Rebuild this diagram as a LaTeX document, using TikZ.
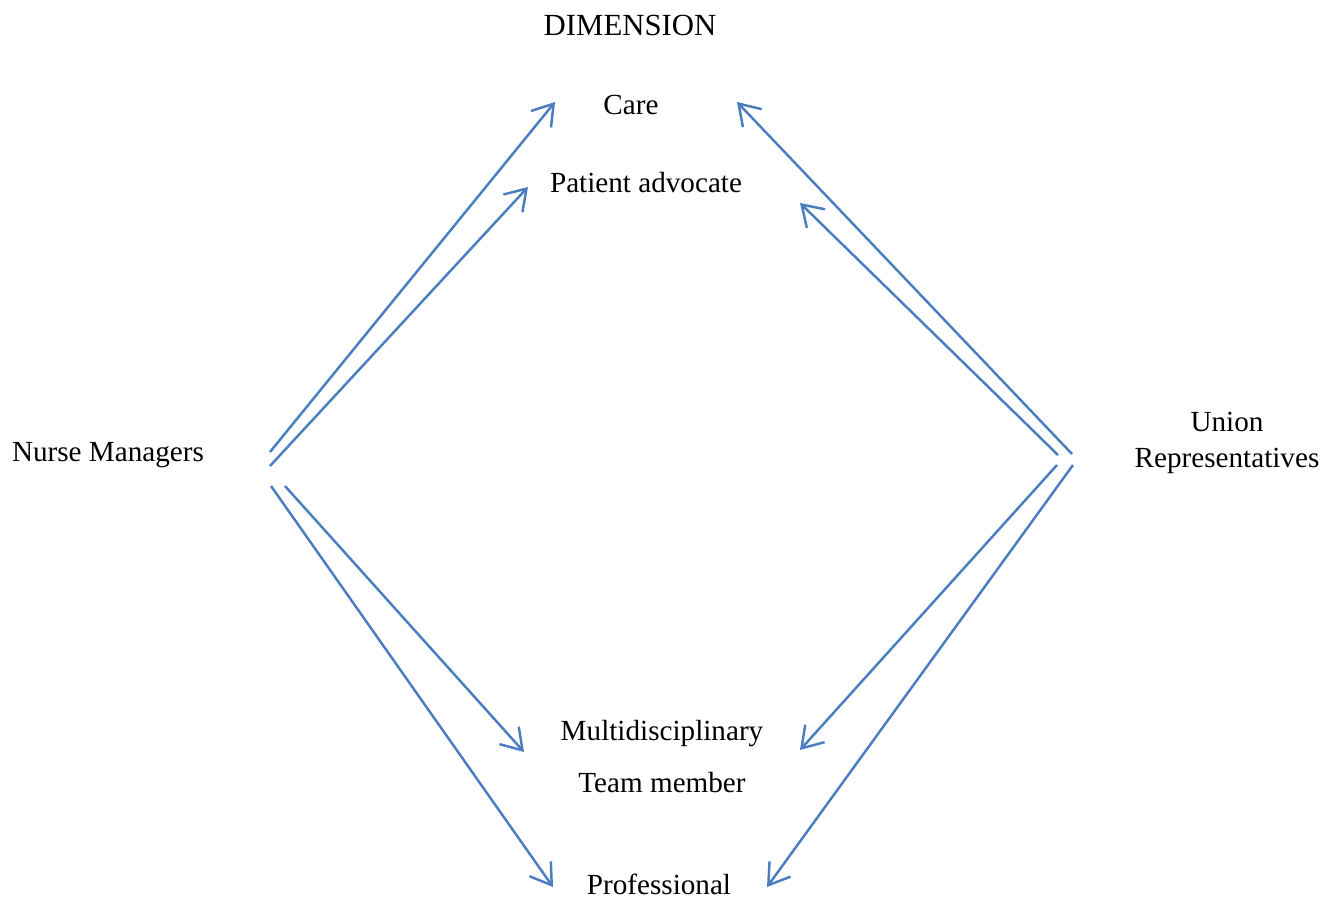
\documentclass[tikz,border=0pt]{standalone}
\usepackage{fontspec}
\setmainfont{Liberation Serif}
\usetikzlibrary{arrows.meta,calc}
\definecolor{lineblue}{RGB}{74,126,193}
\tikzset{
  lbl/.style={font=\fontsize{16.6}{20}\selectfont,inner sep=1pt},
  arr/.style={draw=lineblue,line width=1.4pt,-{Straight Barb[length=4mm,width=5.2mm,line width=1.4pt]}}
}
\begin{document}
\begin{tikzpicture}[x=0.02cm,y=-0.02cm]
      \useasboundingbox (0,0) rectangle (1339,899);
      \node [lbl,font=\fontsize{17.5}{20}\selectfont] (dim) at (630,25) {DIMENSION};
      \node [lbl] (care) at (631,105) {Care};
      \node [lbl] (pa) at (646,183) {Patient advocate};
      \node [lbl] (md) at (662,734) {Multidisciplinary};
      \node [lbl] (tm) at (662,783) {Team member};
      \node [lbl] (prof) at (659,884) {Professional};
      \node [lbl] (nm) at (108,455) {Nurse Managers};
      \node [lbl,align=center] (ur) at (1227,443) {Union\\Representatives};

      \draw[arr] ($(nm)+(162,-3)$) -- ($(care)+(-76,-3)$);
      \draw[arr] ($(nm)+(162,11)$) -- ($(pa)+(-118,4)$);
      \draw[arr] ($(nm)+(177,31)$) -- ($(md)+(-138,18)$);
      \draw[arr] ($(nm)+(163,31)$) -- ($(prof)+(-106,3)$);
      \draw[arr] ($(ur)+(-155,11)$) -- ($(care)+(106,-3)$);
      \draw[arr] ($(ur)+(-169,12)$) -- ($(pa)+(154,20)$);
      \draw[arr] ($(ur)+(-170,22)$) -- ($(md)+(138,16)$);
      \draw[arr] ($(ur)+(-154,22)$) -- ($(prof)+(108,3)$);
    \end{tikzpicture}
\end{document}
